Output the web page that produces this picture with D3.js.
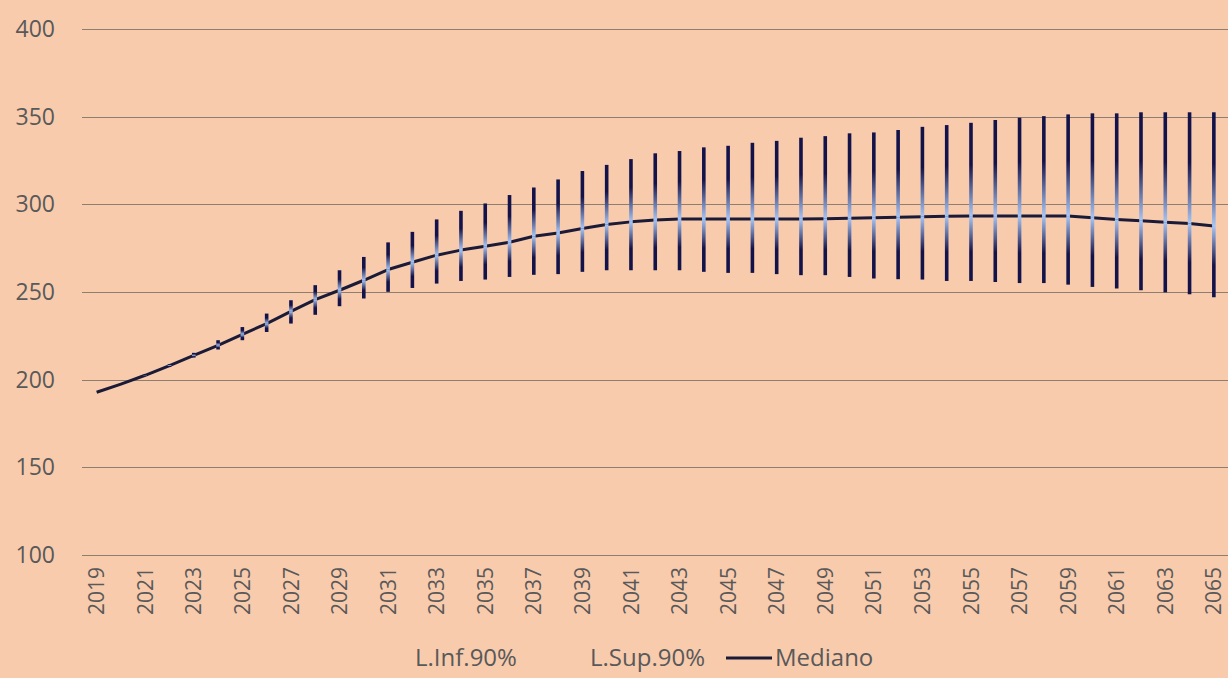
<!DOCTYPE html>
<html><head><meta charset="utf-8">
<script src="https://cdn.jsdelivr.net/npm/d3@7"></script>
<style>
html,body{margin:0;padding:0;background:#f8cbad;}
svg{display:block;font-family:"Open Sans",sans-serif;}
</style></head>
<body><svg id="c" width="1228" height="678"></svg>
<script>
const years = d3.range(2019, 2066);
const median = [192.8,197.5,202.5,208,213.8,219.6,225.8,232,239,245.7,251,256.7,262.8,267,271,273.9,276.1,278.4,281.8,283.7,286.2,288.5,290,291,291.6,291.6,291.6,291.6,291.6,291.7,291.8,292.1,292.3,292.6,292.9,293.2,293.3,293.3,293.3,293.3,293.3,292.3,291.4,290.6,289.8,289.1,287.6];
const lower = [192.8,197.4,202.2,207.2,212.6,217.2,222.5,227.2,232,237,241.9,246.3,250.1,252.3,254.8,256.3,257.1,258.6,259.8,260.2,261.5,262.4,262.4,262.4,262.4,261.5,260.9,260.9,260.2,259.6,259.6,258.6,257.7,257.3,257.1,256.3,256.3,255.7,255.1,255.1,254.2,252.9,252,251,249.8,248.7,247];
const upper = [192.8,197.6,202.8,208.8,215.3,222.5,230,237.7,245.3,253.9,262.4,270,278.3,284.3,291.4,296.3,300.5,305.3,309.6,314.2,319,322.5,325.8,329.1,330.4,332.5,333.4,335.1,336.2,338,338.9,340.5,341,342.4,344.2,345.2,346.5,348.1,349.4,350.3,351.3,351.9,351.9,352.5,352.5,352.5,352.5];
const yTicks = [100,150,200,250,300,350,400];
const seriesNames = ["L.Inf.90%","L.Sup.90%","Mediano"];

(function () {
const svg = d3.select("#c");
const pLeft = 84.5, pRight = 1226, pTop = 29, pBottom = 555;
const navy = "#13134a", light = "#a9c6f5", textCol = "#595959", gridCol = "#8f7d70";

const x = d3.scaleBand().domain(years).range([pLeft, pRight]);
const y = d3.scaleLinear().domain([100, 400]).range([pBottom, pTop]);
const cx = d => x(d) + x.bandwidth() / 2;

const defs = svg.append("defs");
const gu = defs.append("linearGradient").attr("id","gUp").attr("x1",0).attr("y1",0).attr("x2",0).attr("y2",1);
gu.append("stop").attr("offset",0).attr("stop-color",navy);
gu.append("stop").attr("offset",0.45).attr("stop-color",navy);
gu.append("stop").attr("offset",1).attr("stop-color",light);
const gd = defs.append("linearGradient").attr("id","gDown").attr("x1",0).attr("y1",0).attr("x2",0).attr("y2",1);
gd.append("stop").attr("offset",0).attr("stop-color",light);
gd.append("stop").attr("offset",0.55).attr("stop-color",navy);
gd.append("stop").attr("offset",1).attr("stop-color",navy);

// grid
svg.append("g").selectAll("line").data(yTicks).join("line")
  .attr("x1", 82).attr("x2", 1228)
  .attr("y1", d => Math.round(y(d)) + 0.5).attr("y2", d => Math.round(y(d)) + 0.5)
  .attr("stroke", gridCol).attr("stroke-width", 1);

// y axis labels
const yAxis = d3.axisLeft(y).tickValues(yTicks).tickSize(0).tickPadding(0);
const ya = svg.append("g").attr("transform", "translate(55,0)").call(yAxis);
ya.select(".domain").remove();
ya.selectAll("text").attr("fill", textCol).style("font-size", "23px").style("font-family", '"Open Sans",sans-serif');

// x axis labels
const xAxis = d3.axisBottom(x).tickValues(years.filter((d, i) => i % 2 === 0)).tickSize(0).tickPadding(0);
const xa = svg.append("g").attr("transform", `translate(0,${pBottom})`).call(xAxis);
xa.select(".domain").remove();
xa.selectAll("text")
  .attr("fill", textCol).style("font-size", "21px").style("font-family", '"Open Sans",sans-serif')
  .attr("transform", "rotate(-90)")
  .attr("x", -12).attr("y", 0).attr("dy", "0.36em")
  .attr("text-anchor", "end");

// median line
svg.append("path")
  .datum(years.map((d, i) => [cx(d), y(median[i])]))
  .attr("d", d3.line())
  .attr("fill", "none").attr("stroke", "#1b1b38").attr("stroke-width", 3)
  .attr("stroke-linejoin", "round");

// bars
const bw = 3.6;
const gBars = svg.append("g");
years.forEach((d, i) => {
  const ym = y(median[i]), yu = y(upper[i]), yl = y(lower[i]);
  if (ym - yu > 0.3) gBars.append("rect").attr("x", cx(d) - bw/2).attr("width", bw).attr("y", yu).attr("height", ym - yu).attr("fill", "url(#gUp)");
  if (yl - ym > 0.3) gBars.append("rect").attr("x", cx(d) - bw/2).attr("width", bw).attr("y", ym).attr("height", yl - ym).attr("fill", "url(#gDown)");
});

// legend
const lg = svg.append("g").style("font-size", "24px").attr("fill", textCol);
lg.append("text").attr("x", 415).attr("y", 658).attr("dy", "0.35em").text(seriesNames[0]);
lg.append("text").attr("x", 590).attr("y", 658).attr("dy", "0.35em").text(seriesNames[1]);
lg.append("line").attr("x1", 726).attr("x2", 772).attr("y1", 658).attr("y2", 658).attr("stroke", "#1b1b38").attr("stroke-width", 3);
lg.append("text").attr("x", 775).attr("y", 658).attr("dy", "0.35em").text(seriesNames[2]);
})();
</script></body></html>
